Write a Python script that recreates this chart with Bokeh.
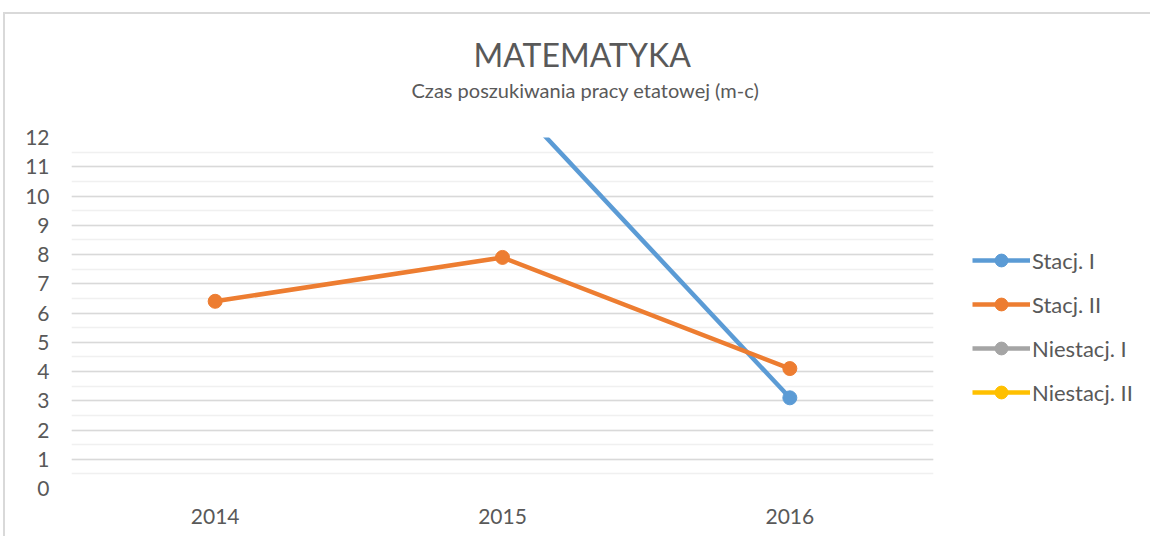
from bokeh.plotting import figure
from bokeh.models import FactorRange, Range1d, Title, Legend, LegendItem, SingleIntervalTicker, ColumnDataSource
from bokeh.embed import file_html
from bokeh.resources import INLINE

years = ["2014", "2015", "2016"]
stacj_1 = [float("nan"), 13.6, 3.1]
stacj_2 = [6.4, 7.9, 4.1]
niestacj_1 = [float("nan"), float("nan"), float("nan")]
niestacj_2 = [float("nan"), float("nan"), float("nan")]
series_names = ["Stacj. I", "Stacj. II", "Niestacj. I", "Niestacj. II"]
colors = ["#5B9BD5", "#ED7D31", "#A5A5A5", "#FFC000"]
title_text = "MATEMATYKA"
subtitle_text = "Czas poszukiwania pracy etatowej (m-c)"

FONT = "Lato"
TXT = "#595959"

p = figure(x_range=FactorRange(factors=years), y_range=Range1d(0, 12),
           width=1146, height=536, frame_width=862, frame_height=351,
           min_border_left=71, min_border_right=213, min_border_top=137, min_border_bottom=48,
           output_backend="svg", toolbar_location=None, title=None)
p.outline_line_color = None
p.background_fill_color = "white"
p.border_fill_color = None
p.styles = {"box-shadow": "inset 3px 0 0 0 white, inset 0 12px 0 0 white, "
                          "inset 5px 0 0 0 #d9d9d9, inset 0 14px 0 0 #d9d9d9"}

p.yaxis.ticker = SingleIntervalTicker(interval=1, num_minor_ticks=2)
p.ygrid.grid_line_color = "#d9d9d9"
p.ygrid.grid_line_width = 1.5
p.ygrid.minor_grid_line_color = "#f0f0f0"
p.ygrid.minor_grid_line_width = 1.5
p.xgrid.grid_line_color = None

for ax in (p.xaxis, p.yaxis):
    ax.axis_line_color = None
    ax.major_tick_line_color = None
    ax.minor_tick_line_color = None
    ax.major_tick_out = 0
    ax.major_tick_in = 0
    ax.minor_tick_out = 0
    ax.minor_tick_in = 0
    ax.major_label_text_font = FONT
    ax.major_label_text_color = TXT
    ax.major_label_text_font_size = "21px"
p.yaxis.major_label_standoff = 22
p.xaxis.major_label_standoff = 20

items = []
for name, vals, col in zip(series_names, [stacj_1, stacj_2, niestacj_1, niestacj_2], colors):
    src = ColumnDataSource(dict(x=years, y=vals))
    r1 = p.line("x", "y", source=src, line_color=col, line_width=4.5)
    r2 = p.scatter("x", "y", source=src, size=14, fill_color=col, line_color=col)
    items.append(LegendItem(label=name, renderers=[r1, r2]))

legend = Legend(items=items, location=(39, 80), orientation="vertical",
                glyph_width=58, glyph_height=32, label_height=26, spacing=12,
                label_standoff=2, padding=0, margin=0,
                border_line_color=None, background_fill_alpha=0,
                label_text_font=FONT, label_text_font_size="22px", label_text_color=TXT)
p.add_layout(legend, "right")

p.add_layout(Title(text=subtitle_text, align="left", offset=340, standoff=72,
                   text_font=FONT, text_font_size="20px", text_font_style="normal",
                   text_color=TXT), "above")
p.add_layout(Title(text=title_text, align="left", offset=402, standoff=-68,
                   text_font=FONT, text_font_size="32px", text_font_style="normal",
                   text_color=TXT), "above")

open("out.html", "w").write(file_html(p, INLINE))
